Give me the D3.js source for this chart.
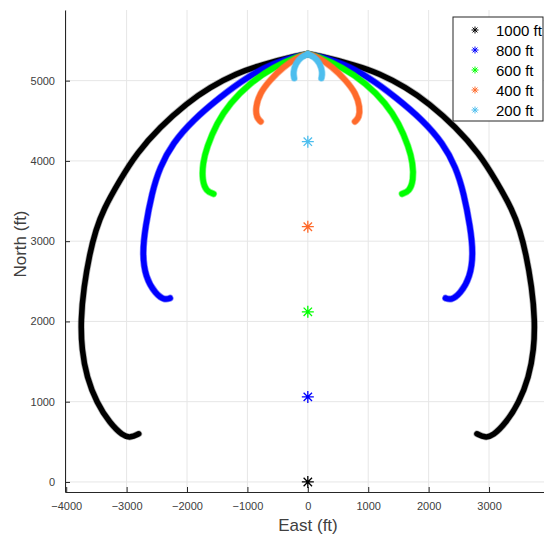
<!DOCTYPE html>
<html>
<head>
<meta charset="utf-8">
<script src="https://cdn.jsdelivr.net/npm/d3@7"></script>
<style>
  body { margin: 0; background: #fff; }
  svg { font-family: "Liberation Sans", Arial, sans-serif; }
</style>
</head>
<body>
<svg></svg>
<script>
// legend names and colours
var names = ["1000 ft", "800 ft", "600 ft", "400 ft", "200 ft"];
var colors = ["#000000", "#0000ff", "#00ff00", "#ff6a2b", "#4dbeee"];

// start points (East, North)
var startX = [0, 0, 0, 0, 0];
var startY = [0, 1060, 2120, 3180, 4240];

// trajectories: [East, North]
var left1000 = [[0,5330],[-132,5320],[-795,5192],[-1176,5092],[-1623,4918],[-2004,4719],[-2451,4420],
  [-2832,4096],[-3113,3760],[-3390,3386],[-3510,3137],[-3610,2851],[-3709,2428],[-3760,2017],
  [-3743,1643],[-3660,1307],[-3494,984],[-3279,735],[-3064,575],[-2935,550],[-2800,600]];
var right1000 = [[0,5330],[132,5320],[795,5192],[1176,5092],[1623,4918],[2004,4719],[2451,4420],
  [2832,4096],[3113,3760],[3390,3386],[3510,3137],[3610,2851],[3709,2428],[3760,2017],
  [3743,1643],[3660,1307],[3494,984],[3279,735],[3064,575],[2935,550],[2800,600]];

var left800 = [[0,5330],[-132,5310],[-580,5217],[-1010,5042],[-1457,4793],[-1904,4507],[-2236,4221],
  [-2451,3922],[-2583,3598],[-2690,3175],[-2740,2851],[-2690,2552],[-2520,2340],[-2370,2265],[-2280,2290]];
var right800 = [[0,5330],[132,5310],[580,5217],[1010,5042],[1457,4793],[1904,4507],[2236,4221],
  [2451,3922],[2583,3598],[2690,3175],[2740,2851],[2690,2552],[2520,2340],[2370,2265],[2280,2290]];

var left600 = [[0,5330],[-132,5310],[-580,5167],[-960,4968],[-1292,4719],[-1507,4470],[-1673,4171],
  [-1739,3972],[-1750,3760],[-1680,3620],[-1560,3590]];
var right600 = [[0,5330],[132,5310],[580,5167],[960,4968],[1292,4719],[1507,4470],[1673,4171],
  [1739,3972],[1750,3760],[1680,3620],[1560,3590]];

var left400 = [[0,5330],[-132,5310],[-414,5167],[-629,5005],[-795,4843],[-865,4669],[-850,4540],[-780,4490]];
var right400 = [[0,5330],[132,5310],[414,5167],[629,5005],[795,4843],[865,4669],[850,4540],[780,4490]];

var left200 = [[0,5330],[-110,5295],[-200,5217],[-245,5100],[-225,5030]];
var right200 = [[0,5330],[110,5295],[200,5217],[245,5100],[225,5030]];

var paths = [[left1000, right1000], [left800, right800], [left600, right600],
             [left400, right400], [left200, right200]];

var xTicks = [-4000, -3000, -2000, -1000, 0, 1000, 2000, 3000];
var yTicks = [0, 1000, 2000, 3000, 4000, 5000];

var width = 544, height = 536;
var svg = d3.select("svg").attr("width", width).attr("height", height);

var x = d3.scaleLinear().domain([-4020, 3910]).range([65, 544]);
var y = d3.scaleLinear().domain([-125, 5880]).range([492, 10]);

// grid
svg.append("g").selectAll("line").data(xTicks).enter().append("line")
  .attr("x1", d => x(d)).attr("x2", d => x(d))
  .attr("y1", y.range()[0]).attr("y2", y.range()[1])
  .attr("stroke", "#e6e6e6").attr("stroke-width", 1);
svg.append("g").selectAll("line").data(yTicks).enter().append("line")
  .attr("y1", d => y(d)).attr("y2", d => y(d))
  .attr("x1", x.range()[0]).attr("x2", x.range()[1])
  .attr("stroke", "#e6e6e6").attr("stroke-width", 1);

// axes
var xAxis = d3.axisBottom(x).tickValues(xTicks).tickFormat(d3.format("d"))
  .tickSizeInner(-5).tickSizeOuter(0).tickPadding(10);
var yAxis = d3.axisLeft(y).tickValues(yTicks).tickFormat(d3.format("d"))
  .tickSizeInner(-5).tickSizeOuter(0).tickPadding(10);

var gx = svg.append("g").attr("transform", "translate(0," + y.range()[0] + ")").call(xAxis);
var gy = svg.append("g").attr("transform", "translate(" + x.range()[0] + ",0)").call(yAxis);
[gx, gy].forEach(function(g) {
  g.select(".domain").attr("stroke", "#262626");
  g.selectAll(".tick line").attr("stroke", "#262626");
  g.selectAll("text").attr("fill", "#404040").style("font-size", "11px");
});

svg.append("text").attr("x", 308).attr("y", 531).attr("text-anchor", "middle")
  .attr("fill", "#404040").style("font-size", "17px").text("East (ft)");
svg.append("text").attr("transform", "translate(26,244) rotate(-90)").attr("text-anchor", "middle")
  .attr("fill", "#404040").style("font-size", "17px").text("North (ft)");

// asterisk marker
function star(r) {
  var a = r * 0.7;
  return "M" + (-r) + ",0L" + r + ",0M0," + (-r) + "L0," + r +
    "M" + (-a) + "," + (-a) + "L" + a + "," + a + "M" + (-a) + "," + a + "L" + a + "," + (-a);
}

var line = d3.line().x(d => x(d[0])).y(d => y(d[1])).curve(d3.curveBasis);

var plot = svg.append("g");
paths.forEach(function(pair, i) {
  var g = plot.append("g");
  pair.forEach(function(pts) {
    g.append("path").attr("d", line(pts)).attr("fill", "none")
      .attr("stroke", colors[i]).attr("stroke-opacity", i === 0 ? 0.3 : 0.5)
      .attr("stroke-width", 7).attr("stroke-linecap", "round");
    g.append("path").attr("d", line(pts)).attr("fill", "none")
      .attr("stroke", colors[i]).attr("stroke-width", 5.5).attr("stroke-linecap", "round");
  });
});

// start markers
plot.selectAll("path.s").data(startX).enter().append("path").attr("class", "s")
  .attr("transform", (d, i) => "translate(" + x(d) + "," + y(startY[i]) + ")")
  .attr("d", star(6)).attr("stroke", (d, i) => colors[i]).attr("stroke-width", 1.3).attr("fill", "none");

// legend
var lg = svg.append("g").attr("transform", "translate(453,17)");
lg.append("rect").attr("width", 90).attr("height", 104)
  .attr("fill", "#fff").attr("stroke", "#262626").attr("stroke-width", 1);
names.forEach(function(n, i) {
  var yy = 13 + i * 20;
  lg.append("path").attr("transform", "translate(22," + yy + ")")
    .attr("d", star(3.5)).attr("stroke", colors[i]).attr("stroke-width", 1).attr("fill", "none");
  lg.append("text").attr("x", 43).attr("y", yy + 5.5).style("font-size", "15px")
    .attr("fill", "#000").text(n);
});
</script>
</body>
</html>
